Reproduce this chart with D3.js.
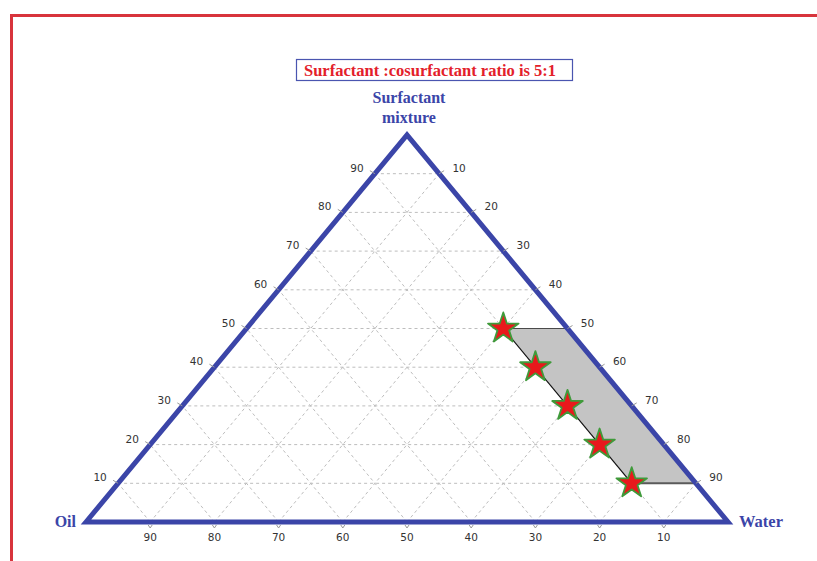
<!DOCTYPE html>
<html>
<head>
<meta charset="utf-8">
<script src="https://cdn.jsdelivr.net/npm/d3@7/dist/d3.min.js"></script>
<style>
  html, body { margin: 0; padding: 0; background: #fff; }
  svg { display: block; }
</style>
</head>
<body>
<script>
// Ternary phase diagram: oil / surfactant mixture / water (percent)
const title = "Surfactant :cosurfactant ratio is 5:1";
const vertexLabels = { top: ["Surfactant", "mixture"], left: "Oil", right: "Water" };

const gridLevels = [10, 20, 30, 40, 50, 60, 70, 80, 90];
const leftTickLabels = ["10", "20", "30", "40", "50", "60", "70", "80", "90"];   // surfactant
const rightTickLabels = ["90", "80", "70", "60", "50", "40", "30", "20", "10"];  // water, by surfactant level
const bottomTickLabels = ["90", "80", "70", "60", "50", "40", "30", "20", "10"]; // oil, left to right

// Microemulsion region boundary (oil, surfactant, water)
const regionOil = [10, 0, 0, 10];
const regionSurf = [50, 50, 10, 10];
const regionWater = [40, 50, 90, 80];

// Formulation points (oil, surfactant, water)
const pointOil = [10, 10, 10, 10, 10];
const pointSurf = [50, 40, 30, 20, 10];
const pointWater = [40, 50, 60, 70, 80];

const W = 817, H = 561;
const svg = d3.select("body").append("svg").attr("width", W).attr("height", H);

// Scales: horizontal position from (water + surfactant/2), vertical from surfactant
const xs = d3.scaleLinear().domain([0, 100]).range([86, 728]);
const ys = d3.scaleLinear().domain([0, 100]).range([522, 135]);
function pt(oil, surf, water) {
  const t = oil + surf + water;
  return [xs((water + surf / 2) * 100 / t), ys(surf * 100 / t)];
}

// Outer frame (top and left edges)
const frameColor = "#d8343c";
svg.append("line").attr("x1", 10).attr("y1", 15.5).attr("x2", W).attr("y2", 15.5)
  .attr("stroke", frameColor).attr("stroke-width", 3);
svg.append("line").attr("x1", 11.5).attr("y1", 14).attr("x2", 11.5).attr("y2", H)
  .attr("stroke", frameColor).attr("stroke-width", 3);

// Grid lines
const grid = svg.append("g").attr("stroke", "#bdbdbd").attr("stroke-width", 1)
  .attr("stroke-dasharray", "3,3").attr("fill", "none");
gridLevels.forEach(v => {
  const r = 100 - v;
  // constant surfactant
  let a = pt(r, v, 0), b = pt(0, v, r);
  grid.append("line").attr("x1", a[0]).attr("y1", a[1]).attr("x2", b[0]).attr("y2", b[1]);
  // constant water
  a = pt(r, 0, v); b = pt(0, r, v);
  grid.append("line").attr("x1", a[0]).attr("y1", a[1]).attr("x2", b[0]).attr("y2", b[1]);
  // constant oil
  a = pt(v, 0, r); b = pt(v, r, 0);
  grid.append("line").attr("x1", a[0]).attr("y1", a[1]).attr("x2", b[0]).attr("y2", b[1]);
});

// Microemulsion region
const region = regionOil.map((o, i) => pt(o, regionSurf[i], regionWater[i]));
svg.append("path")
  .attr("d", d3.line()(region) + "Z")
  .attr("fill", "#c4c4c4").attr("stroke", "none");
svg.append("path")
  .attr("d", d3.line()([region[0], region[1]]))
  .attr("stroke", "#4a4a4a").attr("stroke-width", 1.2).attr("fill", "none");
svg.append("path")
  .attr("d", d3.line()([region[2], region[3]]))
  .attr("stroke", "#5a5a5a").attr("stroke-width", 2).attr("fill", "none");
svg.append("path")
  .attr("d", d3.line()([region[3], region[0]]))
  .attr("stroke", "#111").attr("stroke-width", 1.2).attr("fill", "none");

// Triangle outline
const corners = [pt(100, 0, 0), pt(0, 100, 0), pt(0, 0, 100)];
svg.append("path")
  .attr("d", d3.line()(corners) + "Z")
  .attr("fill", "none").attr("stroke", "#3b45a8").attr("stroke-width", 5)
  .attr("stroke-linejoin", "miter");

// Ticks and tick labels
const tickFont = "'DejaVu Sans', Verdana, sans-serif";
const tg = svg.append("g").attr("font-family", tickFont).attr("font-size", 10.5)
  .attr("fill", "#333").attr("text-anchor", "middle");
const tickStroke = "#999";
gridLevels.forEach((v, i) => {
  // left edge: surfactant
  let p = pt(100 - v, v, 0);
  svg.append("line").attr("x1", p[0]).attr("y1", p[1]).attr("x2", p[0] - 5).attr("y2", p[1] - 3)
    .attr("stroke", tickStroke).attr("stroke-width", 1);
  tg.append("text").attr("x", p[0] - 18).attr("y", p[1] - 2).text(leftTickLabels[i]);
  // right edge: water
  p = pt(0, v, 100 - v);
  svg.append("line").attr("x1", p[0]).attr("y1", p[1]).attr("x2", p[0] + 5).attr("y2", p[1] - 3)
    .attr("stroke", tickStroke).attr("stroke-width", 1);
  tg.append("text").attr("x", p[0] + 20).attr("y", p[1] - 2).text(rightTickLabels[i]);
});
bottomTickLabels.forEach(lab => {
  // bottom edge: oil
  const v = +lab;
  const p = pt(v, 0, 100 - v);
  svg.append("line").attr("x1", p[0] - 2).attr("y1", p[1] + 3).attr("x2", p[0]).attr("y2", p[1] + 6)
    .attr("stroke", tickStroke).attr("stroke-width", 1);
  svg.append("line").attr("x1", p[0] + 2).attr("y1", p[1] + 3).attr("x2", p[0]).attr("y2", p[1] + 6)
    .attr("stroke", tickStroke).attr("stroke-width", 1);
  tg.append("text").attr("x", p[0]).attr("y", p[1] + 19).text(lab);
});

// Formulation points
const star = d3.symbol().type(d3.symbolStar).size(290);
pointOil.forEach((o, i) => {
  const p = pt(o, pointSurf[i], pointWater[i]);
  svg.append("path").attr("d", star())
    .attr("transform", `translate(${p[0]},${p[1]})`)
    .attr("fill", "#e8191c").attr("stroke", "#3f9a3a").attr("stroke-width", 1.8)
    .attr("stroke-linejoin", "round");
});

// Vertex labels
const labelFont = "'Liberation Serif', 'Times New Roman', serif";
const labelColor = "#3b45a8";
const apex = pt(0, 100, 0);
const tl = svg.append("text").attr("font-family", labelFont).attr("font-weight", "bold")
  .attr("font-size", 16).attr("fill", labelColor).attr("text-anchor", "middle");
tl.append("tspan").attr("x", apex[0] + 2).attr("y", 103).text(vertexLabels.top[0]);
tl.append("tspan").attr("x", apex[0] + 2).attr("y", 123).text(vertexLabels.top[1]);
const oilPt = pt(100, 0, 0), waterPt = pt(0, 0, 100);
svg.append("text").attr("x", oilPt[0] - 10).attr("y", oilPt[1] + 5)
  .attr("font-family", labelFont).attr("font-weight", "bold").attr("font-size", 16)
  .attr("fill", labelColor).attr("text-anchor", "end").text(vertexLabels.left);
svg.append("text").attr("x", waterPt[0] + 11).attr("y", waterPt[1] + 5)
  .attr("font-family", labelFont).attr("font-weight", "bold").attr("font-size", 16.5)
  .attr("fill", labelColor).attr("text-anchor", "start").text(vertexLabels.right);

// Title in a framed box
svg.append("rect")
  .attr("x", 296.5).attr("y", 59.5).attr("width", 276).attr("height", 21)
  .attr("fill", "none").attr("stroke", "#4a55b0").attr("stroke-width", 1.2);
svg.append("text").attr("x", 430).attr("y", 76)
  .attr("font-family", labelFont).attr("font-weight", "bold").attr("font-size", 16.5)
  .attr("fill", "#e3202a").attr("text-anchor", "middle").text(title);
</script>
</body>
</html>
